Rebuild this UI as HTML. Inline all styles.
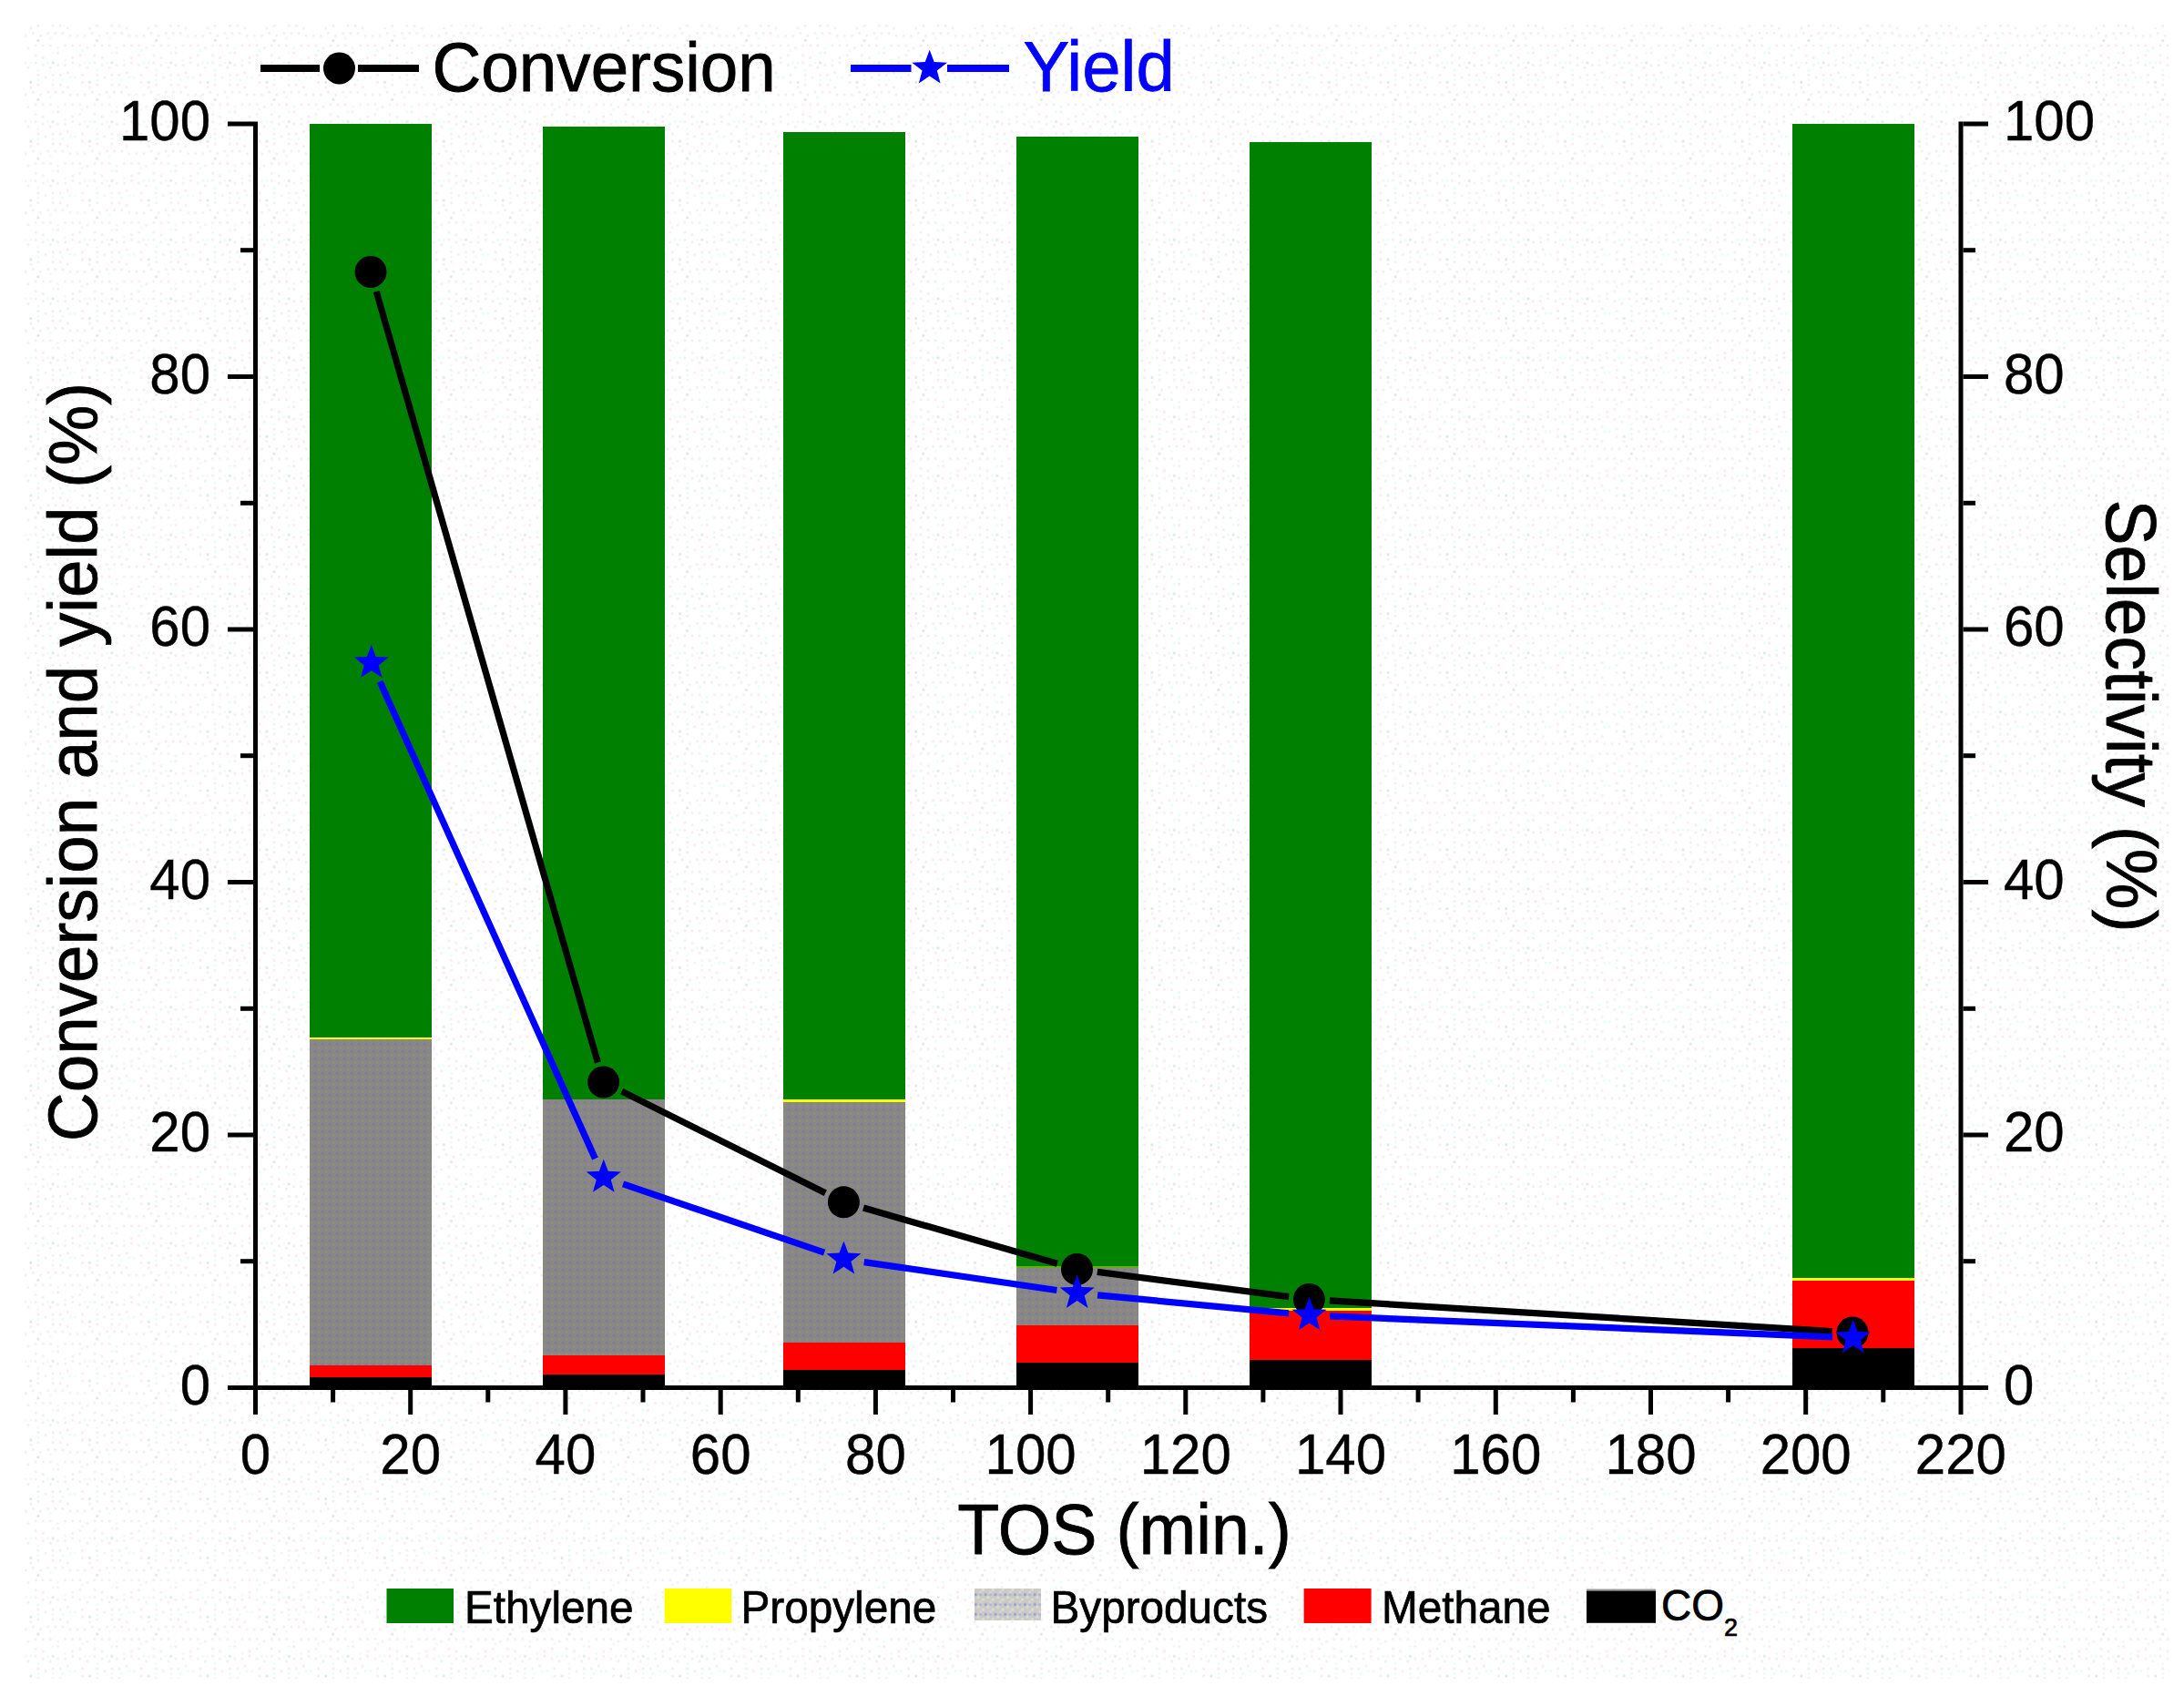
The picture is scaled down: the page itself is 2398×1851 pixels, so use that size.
<!DOCTYPE html><html><head><meta charset="utf-8"><title>Chart</title><style>html,body{margin:0;padding:0;background:#fff}svg{display:block}text{font-family:"Liberation Sans",Arial,sans-serif}</style></head><body>
<svg width="2398" height="1851" viewBox="0 0 2398 1851">
<defs><pattern id="bg" x="27" y="27" width="64.8" height="64.8" patternUnits="userSpaceOnUse"><rect x="5.4" y="2.7" width="2.7" height="2.7" fill="#f6eded"/><rect x="13.5" y="0.0" width="2.7" height="2.7" fill="#f6eded"/><rect x="29.7" y="0.0" width="2.7" height="2.7" fill="#f6eded"/><rect x="37.8" y="0.0" width="2.7" height="2.7" fill="#f6eded"/><rect x="45.9" y="2.7" width="2.7" height="2.7" fill="#f6eded"/><rect x="62.1" y="62.1" width="2.7" height="2.7" fill="#f6eded"/><rect x="0.0" y="10.8" width="2.7" height="2.7" fill="#f6eded"/><rect x="8.1" y="8.1" width="2.7" height="2.7" fill="#f6eded"/><rect x="16.2" y="10.8" width="2.7" height="2.7" fill="#f6eded"/><rect x="24.3" y="8.1" width="2.7" height="2.7" fill="#f6eded"/><rect x="32.4" y="8.1" width="2.7" height="2.7" fill="#f6eded"/><rect x="40.5" y="8.1" width="2.7" height="2.7" fill="#f6eded"/><rect x="48.6" y="10.8" width="2.7" height="2.7" fill="#f6eded"/><rect x="56.7" y="10.8" width="2.7" height="2.7" fill="#f6eded"/><rect x="2.7" y="24.3" width="2.7" height="2.7" fill="#f6eded"/><rect x="10.8" y="21.6" width="2.7" height="2.7" fill="#f6eded"/><rect x="18.9" y="21.6" width="2.7" height="2.7" fill="#f6eded"/><rect x="27.0" y="21.6" width="2.7" height="2.7" fill="#f6eded"/><rect x="43.2" y="21.6" width="2.7" height="2.7" fill="#f6eded"/><rect x="51.3" y="21.6" width="2.7" height="2.7" fill="#f6eded"/><rect x="59.4" y="21.6" width="2.7" height="2.7" fill="#f6eded"/><rect x="10.8" y="32.4" width="2.7" height="2.7" fill="#f6eded"/><rect x="18.9" y="35.1" width="2.7" height="2.7" fill="#f6eded"/><rect x="35.1" y="29.7" width="2.7" height="2.7" fill="#f6eded"/><rect x="51.3" y="35.1" width="2.7" height="2.7" fill="#f6eded"/><rect x="59.4" y="32.4" width="2.7" height="2.7" fill="#f6eded"/><rect x="2.7" y="45.9" width="2.7" height="2.7" fill="#f6eded"/><rect x="10.8" y="40.5" width="2.7" height="2.7" fill="#f6eded"/><rect x="18.9" y="43.2" width="2.7" height="2.7" fill="#f6eded"/><rect x="27.0" y="45.9" width="2.7" height="2.7" fill="#f6eded"/><rect x="35.1" y="43.2" width="2.7" height="2.7" fill="#f6eded"/><rect x="43.2" y="43.2" width="2.7" height="2.7" fill="#f6eded"/><rect x="51.3" y="40.5" width="2.7" height="2.7" fill="#f6eded"/><rect x="59.4" y="43.2" width="2.7" height="2.7" fill="#f6eded"/><rect x="13.5" y="54.0" width="2.7" height="2.7" fill="#f6eded"/><rect x="21.6" y="56.7" width="2.7" height="2.7" fill="#f6eded"/><rect x="29.7" y="54.0" width="2.7" height="2.7" fill="#f6eded"/><rect x="37.8" y="54.0" width="2.7" height="2.7" fill="#f6eded"/><rect x="45.9" y="51.3" width="2.7" height="2.7" fill="#f6eded"/><rect x="62.1" y="54.0" width="2.7" height="2.7" fill="#f6eded"/><rect x="35.1" y="24.3" width="2.7" height="2.7" fill="#e8fbfb"/><rect x="43.2" y="37.8" width="2.7" height="2.7" fill="#e8fbfb"/><rect x="40.5" y="59.4" width="2.7" height="2.7" fill="#e8fbfb"/><rect x="62.1" y="27.0" width="2.7" height="2.7" fill="#e8fbfb"/><rect x="24.3" y="40.5" width="2.7" height="2.7" fill="#e8fbfb"/><rect x="27.0" y="13.5" width="2.7" height="2.7" fill="#e8fbfb"/><rect x="5.4" y="40.5" width="2.7" height="2.7" fill="#e8fbfb"/><rect x="29.7" y="59.4" width="2.7" height="2.7" fill="#e8fbfb"/><rect x="48.6" y="56.7" width="2.7" height="2.7" fill="#e8fbfb"/><rect x="13.5" y="48.6" width="2.7" height="2.7" fill="#e8fbfb"/><rect x="0.0" y="40.5" width="2.7" height="2.7" fill="#e8fbfb"/><rect x="54.0" y="56.7" width="2.7" height="2.7" fill="#e8fbfb"/><rect x="29.7" y="29.7" width="2.7" height="2.7" fill="#e8fbfb"/><rect x="13.5" y="59.4" width="2.7" height="2.7" fill="#e8fbfb"/><rect x="13.5" y="16.2" width="2.7" height="2.7" fill="#dbe7e7"/><rect x="29.7" y="40.5" width="2.7" height="2.7" fill="#dbe7e7"/><rect x="5.4" y="62.1" width="2.7" height="2.7" fill="#dbe7e7"/></pattern><pattern id="gn" x="0" y="0" width="8" height="8" patternUnits="userSpaceOnUse"><rect width="8" height="8" fill="#878787"/><rect x="1" y="1" width="2.7" height="2.7" fill="#7e7e92"/><rect x="5" y="5" width="2.7" height="2.7" fill="#928a7c"/></pattern><pattern id="lg" x="1070" y="1744" width="10.8" height="10.8" patternUnits="userSpaceOnUse"><rect width="10.8" height="10.8" fill="#cbcbc4"/><rect x="0" y="5.4" width="2.7" height="2.7" fill="#9a9ad6"/><rect x="5.4" y="5.4" width="2.7" height="2.7" fill="#a4b4e0"/><rect x="2.7" y="8.1" width="2.7" height="2.7" fill="#dcdcdc"/><rect x="8.1" y="0" width="2.7" height="2.7" fill="#dcdcdc"/><rect x="5.4" y="2.7" width="2.7" height="2.7" fill="#d8d8d8"/></pattern></defs>
<rect width="2398" height="1851" fill="#fff"/>
<rect x="27" y="27" width="2355" height="1816" fill="url(#bg)"/>
<g shape-rendering="crispEdges">
<rect x="340.0" y="1512" width="134" height="11.5" fill="#000"/>
<rect x="340.0" y="1498.5" width="134" height="13.5" fill="#f00"/>
<rect x="340.0" y="1141.4" width="134" height="357.1" fill="url(#gn)"/>
<rect x="340.0" y="1138.5" width="134" height="2.9" fill="#ff0"/>
<rect x="340.0" y="136" width="134" height="1002.5" fill="#008000"/>
<rect x="595.6" y="1509" width="134" height="14.5" fill="#000"/>
<rect x="595.6" y="1487.5" width="134" height="21.5" fill="#f00"/>
<rect x="595.6" y="1207" width="134" height="280.5" fill="url(#gn)"/>
<rect x="595.6" y="139" width="134" height="1068.0" fill="#008000"/>
<rect x="859.5" y="1504" width="134" height="19.5" fill="#000"/>
<rect x="859.5" y="1473.6" width="134" height="30.4" fill="#f00"/>
<rect x="859.5" y="1210" width="134" height="263.6" fill="url(#gn)"/>
<rect x="859.5" y="1207.3" width="134" height="2.7" fill="#ff0"/>
<rect x="859.5" y="144.5" width="134" height="1062.8" fill="#008000"/>
<rect x="1115.5" y="1495.9" width="134" height="27.6" fill="#000"/>
<rect x="1115.5" y="1454.7" width="134" height="41.2" fill="#f00"/>
<rect x="1115.5" y="1392" width="134" height="62.7" fill="url(#gn)"/>
<rect x="1115.5" y="1389.8" width="134" height="2.2" fill="#5cb400"/>
<rect x="1115.5" y="149.5" width="134" height="1240.3" fill="#008000"/>
<rect x="1371.5" y="1493" width="134" height="30.5" fill="#000"/>
<rect x="1371.5" y="1439" width="134" height="54.0" fill="#f00"/>
<rect x="1371.5" y="1436" width="134" height="3.0" fill="#ff0"/>
<rect x="1371.5" y="155.5" width="134" height="1280.5" fill="#008000"/>
<rect x="1967.7" y="1479.8" width="134" height="43.7" fill="#000"/>
<rect x="1967.7" y="1406.2" width="134" height="73.6" fill="#f00"/>
<rect x="1967.7" y="1403" width="134" height="3.2" fill="#ff0"/>
<rect x="1967.7" y="136" width="134" height="1267.0" fill="#008000"/>
</g>
<g fill="#000">
<rect x="278" y="133.5" width="5" height="1419.5"/>
<rect x="2150.5" y="133.5" width="5" height="1419.5"/>
<rect x="250" y="1521" width="1933" height="5"/>
<rect x="264" y="1382.2" width="14" height="5"/>
<rect x="2155.5" y="1382.2" width="13.5" height="5"/>
<rect x="250" y="1243.5" width="28" height="5"/>
<rect x="2155.5" y="1243.5" width="27.5" height="5"/>
<rect x="264" y="1104.8" width="14" height="5"/>
<rect x="2155.5" y="1104.8" width="13.5" height="5"/>
<rect x="250" y="966.0" width="28" height="5"/>
<rect x="2155.5" y="966.0" width="27.5" height="5"/>
<rect x="264" y="827.2" width="14" height="5"/>
<rect x="2155.5" y="827.2" width="13.5" height="5"/>
<rect x="250" y="688.5" width="28" height="5"/>
<rect x="2155.5" y="688.5" width="27.5" height="5"/>
<rect x="264" y="549.8" width="14" height="5"/>
<rect x="2155.5" y="549.8" width="13.5" height="5"/>
<rect x="250" y="411.0" width="28" height="5"/>
<rect x="2155.5" y="411.0" width="27.5" height="5"/>
<rect x="264" y="272.2" width="14" height="5"/>
<rect x="2155.5" y="272.2" width="13.5" height="5"/>
<rect x="250" y="133.5" width="28" height="5"/>
<rect x="2155.5" y="133.5" width="27.5" height="5"/>
<rect x="363.1" y="1526" width="5" height="13.5"/>
<rect x="448.2" y="1526" width="5" height="27"/>
<rect x="533.3" y="1526" width="5" height="13.5"/>
<rect x="618.4" y="1526" width="5" height="27"/>
<rect x="703.5" y="1526" width="5" height="13.5"/>
<rect x="788.7" y="1526" width="5" height="27"/>
<rect x="873.8" y="1526" width="5" height="13.5"/>
<rect x="958.9" y="1526" width="5" height="27"/>
<rect x="1044.0" y="1526" width="5" height="13.5"/>
<rect x="1129.1" y="1526" width="5" height="27"/>
<rect x="1214.2" y="1526" width="5" height="13.5"/>
<rect x="1299.3" y="1526" width="5" height="27"/>
<rect x="1384.4" y="1526" width="5" height="13.5"/>
<rect x="1469.5" y="1526" width="5" height="27"/>
<rect x="1554.6" y="1526" width="5" height="13.5"/>
<rect x="1639.8" y="1526" width="5" height="27"/>
<rect x="1724.9" y="1526" width="5" height="13.5"/>
<rect x="1810.0" y="1526" width="5" height="27"/>
<rect x="1895.1" y="1526" width="5" height="13.5"/>
<rect x="1980.2" y="1526" width="5" height="27"/>
<rect x="2065.3" y="1526" width="5" height="13.5"/>
</g>
<text transform="translate(231,1541.9) scale(1,1.05)" font-size="60" text-anchor="end" fill="#000" stroke="#000" stroke-width="0.4">0</text>
<text transform="translate(2200,1541.9) scale(1,1.05)" font-size="60" text-anchor="start" fill="#000" stroke="#000" stroke-width="0.4">0</text>
<text transform="translate(231,1264.4) scale(1,1.05)" font-size="60" text-anchor="end" fill="#000" stroke="#000" stroke-width="0.4">20</text>
<text transform="translate(2200,1264.4) scale(1,1.05)" font-size="60" text-anchor="start" fill="#000" stroke="#000" stroke-width="0.4">20</text>
<text transform="translate(231,986.9) scale(1,1.05)" font-size="60" text-anchor="end" fill="#000" stroke="#000" stroke-width="0.4">40</text>
<text transform="translate(2200,986.9) scale(1,1.05)" font-size="60" text-anchor="start" fill="#000" stroke="#000" stroke-width="0.4">40</text>
<text transform="translate(231,709.4) scale(1,1.05)" font-size="60" text-anchor="end" fill="#000" stroke="#000" stroke-width="0.4">60</text>
<text transform="translate(2200,709.4) scale(1,1.05)" font-size="60" text-anchor="start" fill="#000" stroke="#000" stroke-width="0.4">60</text>
<text transform="translate(231,431.9) scale(1,1.05)" font-size="60" text-anchor="end" fill="#000" stroke="#000" stroke-width="0.4">80</text>
<text transform="translate(2200,431.9) scale(1,1.05)" font-size="60" text-anchor="start" fill="#000" stroke="#000" stroke-width="0.4">80</text>
<text transform="translate(231,154.4) scale(1,1.05)" font-size="60" text-anchor="end" fill="#000" stroke="#000" stroke-width="0.4">100</text>
<text transform="translate(2200,154.4) scale(1,1.05)" font-size="60" text-anchor="start" fill="#000" stroke="#000" stroke-width="0.4">100</text>
<text transform="translate(280.5,1618) scale(1,1.05)" font-size="60" text-anchor="middle" fill="#000" stroke="#000" stroke-width="0.4">0</text>
<text transform="translate(450.7,1618) scale(1,1.05)" font-size="60" text-anchor="middle" fill="#000" stroke="#000" stroke-width="0.4">20</text>
<text transform="translate(620.9,1618) scale(1,1.05)" font-size="60" text-anchor="middle" fill="#000" stroke="#000" stroke-width="0.4">40</text>
<text transform="translate(791.2,1618) scale(1,1.05)" font-size="60" text-anchor="middle" fill="#000" stroke="#000" stroke-width="0.4">60</text>
<text transform="translate(961.4,1618) scale(1,1.05)" font-size="60" text-anchor="middle" fill="#000" stroke="#000" stroke-width="0.4">80</text>
<text transform="translate(1131.6,1618) scale(1,1.05)" font-size="60" text-anchor="middle" fill="#000" stroke="#000" stroke-width="0.4">100</text>
<text transform="translate(1301.8,1618) scale(1,1.05)" font-size="60" text-anchor="middle" fill="#000" stroke="#000" stroke-width="0.4">120</text>
<text transform="translate(1472.0,1618) scale(1,1.05)" font-size="60" text-anchor="middle" fill="#000" stroke="#000" stroke-width="0.4">140</text>
<text transform="translate(1642.3,1618) scale(1,1.05)" font-size="60" text-anchor="middle" fill="#000" stroke="#000" stroke-width="0.4">160</text>
<text transform="translate(1812.5,1618) scale(1,1.05)" font-size="60" text-anchor="middle" fill="#000" stroke="#000" stroke-width="0.4">180</text>
<text transform="translate(1982.7,1618) scale(1,1.05)" font-size="60" text-anchor="middle" fill="#000" stroke="#000" stroke-width="0.4">200</text>
<text transform="translate(2152.9,1618) scale(1,1.05)" font-size="60" text-anchor="middle" fill="#000" stroke="#000" stroke-width="0.4">220</text>
<text transform="translate(106,836.5) rotate(-90) scale(1,1.03)" font-size="74.6" text-anchor="middle" fill="#000" stroke="#000" stroke-width="0.8">Conversion and yield (%)</text>
<text transform="translate(2313,786) rotate(90) scale(1,1.03)" font-size="75" text-anchor="middle" fill="#000" stroke="#000" stroke-width="0.8">Selectivity (%)</text>
<text transform="translate(1234.5,1705.8) scale(1,1.035)" font-size="75.3" text-anchor="middle" fill="#000" stroke="#000" stroke-width="0.8">TOS (min.)</text>
<line x1="413.2" y1="320.1" x2="656.4" y2="1166.4" stroke="#000" stroke-width="7.2"/>
<line x1="682.7" y1="1198.1" x2="906.3" y2="1309.7" stroke="#000" stroke-width="7.2"/>
<line x1="948.0" y1="1326.0" x2="1160.9" y2="1387.3" stroke="#000" stroke-width="7.2"/>
<line x1="1204.8" y1="1396.4" x2="1415.1" y2="1423.6" stroke="#000" stroke-width="7.2"/>
<line x1="1459.9" y1="1427.9" x2="2011.5" y2="1461.6" stroke="#000" stroke-width="7.2"/>
<circle cx="407" cy="298.5" r="17.5" fill="#000"/>
<circle cx="662.6" cy="1188" r="17.5" fill="#000"/>
<circle cx="926.4" cy="1319.8" r="17.5" fill="#000"/>
<circle cx="1182.5" cy="1393.5" r="17.5" fill="#000"/>
<circle cx="1437.4" cy="1426.5" r="17.5" fill="#000"/>
<circle cx="2034" cy="1463" r="17.5" fill="#000"/>
<line x1="417.1" y1="748.3" x2="653.5" y2="1272.1" stroke="#00f" stroke-width="7.2"/>
<line x1="684.1" y1="1299.9" x2="905.1" y2="1375.1" stroke="#00f" stroke-width="7.2"/>
<line x1="948.7" y1="1385.6" x2="1160.4" y2="1416.5" stroke="#00f" stroke-width="7.2"/>
<line x1="1205.1" y1="1421.8" x2="1415.2" y2="1441.9" stroke="#00f" stroke-width="7.2"/>
<line x1="1460.1" y1="1444.9" x2="2012.2" y2="1467.9" stroke="#00f" stroke-width="7.2"/>
<polygon points="407.8,707.8 412.7,721.0 426.8,721.6 415.8,730.4 419.6,744.0 407.8,736.2 396.0,744.0 399.8,730.4 388.8,721.6 402.9,721.0" fill="#00f"/>
<polygon points="662.8,1272.6 667.7,1285.8 681.8,1286.4 670.8,1295.2 674.6,1308.8 662.8,1301.0 651.0,1308.8 654.8,1295.2 643.8,1286.4 657.9,1285.8" fill="#00f"/>
<polygon points="926.4,1362.4 931.3,1375.6 945.4,1376.2 934.4,1385.0 938.2,1398.6 926.4,1390.8 914.6,1398.6 918.4,1385.0 907.4,1376.2 921.5,1375.6" fill="#00f"/>
<polygon points="1182.7,1399.7 1187.6,1412.9 1201.7,1413.5 1190.7,1422.3 1194.5,1435.9 1182.7,1428.1 1170.9,1435.9 1174.7,1422.3 1163.7,1413.5 1177.8,1412.9" fill="#00f"/>
<polygon points="1437.6,1424.0 1442.5,1437.2 1456.6,1437.8 1445.6,1446.6 1449.4,1460.2 1437.6,1452.4 1425.8,1460.2 1429.6,1446.6 1418.6,1437.8 1432.7,1437.2" fill="#00f"/>
<polygon points="2034.7,1448.8 2039.6,1462.0 2053.7,1462.6 2042.7,1471.4 2046.5,1485.0 2034.7,1477.2 2022.9,1485.0 2026.7,1471.4 2015.7,1462.6 2029.8,1462.0" fill="#00f"/>
<line x1="286" y1="75" x2="351" y2="75" stroke="#000" stroke-width="8"/>
<line x1="393" y1="75" x2="460" y2="75" stroke="#000" stroke-width="8"/>
<circle cx="372.5" cy="75" r="17.5" fill="#000"/>
<text transform="translate(474.5,100.4) scale(1,1.03)" font-size="74.6" text-anchor="start" fill="#000" stroke="#000" stroke-width="0.8">Conversion</text>
<line x1="934" y1="75" x2="1000.5" y2="75" stroke="#00f" stroke-width="8"/>
<line x1="1040" y1="75" x2="1108" y2="75" stroke="#00f" stroke-width="8"/>
<polygon points="1020.7,54.7 1025.7,68.1 1040.0,68.7 1028.8,77.6 1032.6,91.4 1020.7,83.5 1008.8,91.4 1012.6,77.6 1001.4,68.7 1015.7,68.1" fill="#00f"/>
<text transform="translate(1123.5,100.4) scale(1,1.02)" font-size="76" text-anchor="start" fill="#00f" stroke="#00f" stroke-width="0.8">Yield</text>
<rect x="424.5" y="1744" width="73.5" height="38" fill="#008000"/>
<text transform="translate(510,1782) scale(1,1.03)" font-size="47.7" text-anchor="start" fill="#000" stroke="#000" stroke-width="0.7">Ethylene</text>
<rect x="729.7" y="1744" width="73.5" height="38" fill="#ff0"/>
<text transform="translate(813.5,1782) scale(1,1.03)" font-size="47.7" text-anchor="start" fill="#000" stroke="#000" stroke-width="0.7">Propylene</text>
<rect x="1070" y="1744" width="73" height="35" fill="url(#lg)"/>
<text transform="translate(1153.5,1782) scale(1,1.03)" font-size="47.7" text-anchor="start" fill="#000" stroke="#000" stroke-width="0.7">Byproducts</text>
<rect x="1431.6" y="1744" width="74" height="38" fill="#f00"/>
<text transform="translate(1517,1782) scale(1,1.03)" font-size="47.7" text-anchor="start" fill="#000" stroke="#000" stroke-width="0.7">Methane</text>
<rect x="1742" y="1744.5" width="76" height="2" fill="#9a9a96"/><rect x="1742" y="1746.5" width="76" height="35.3" fill="#000"/>
<text transform="translate(1824,1778.6) scale(1,1.03)" font-size="46" text-anchor="start" fill="#000" stroke="#000" stroke-width="0.7">CO<tspan font-size="27" dy="16.4">2</tspan></text>
</svg></body></html>
